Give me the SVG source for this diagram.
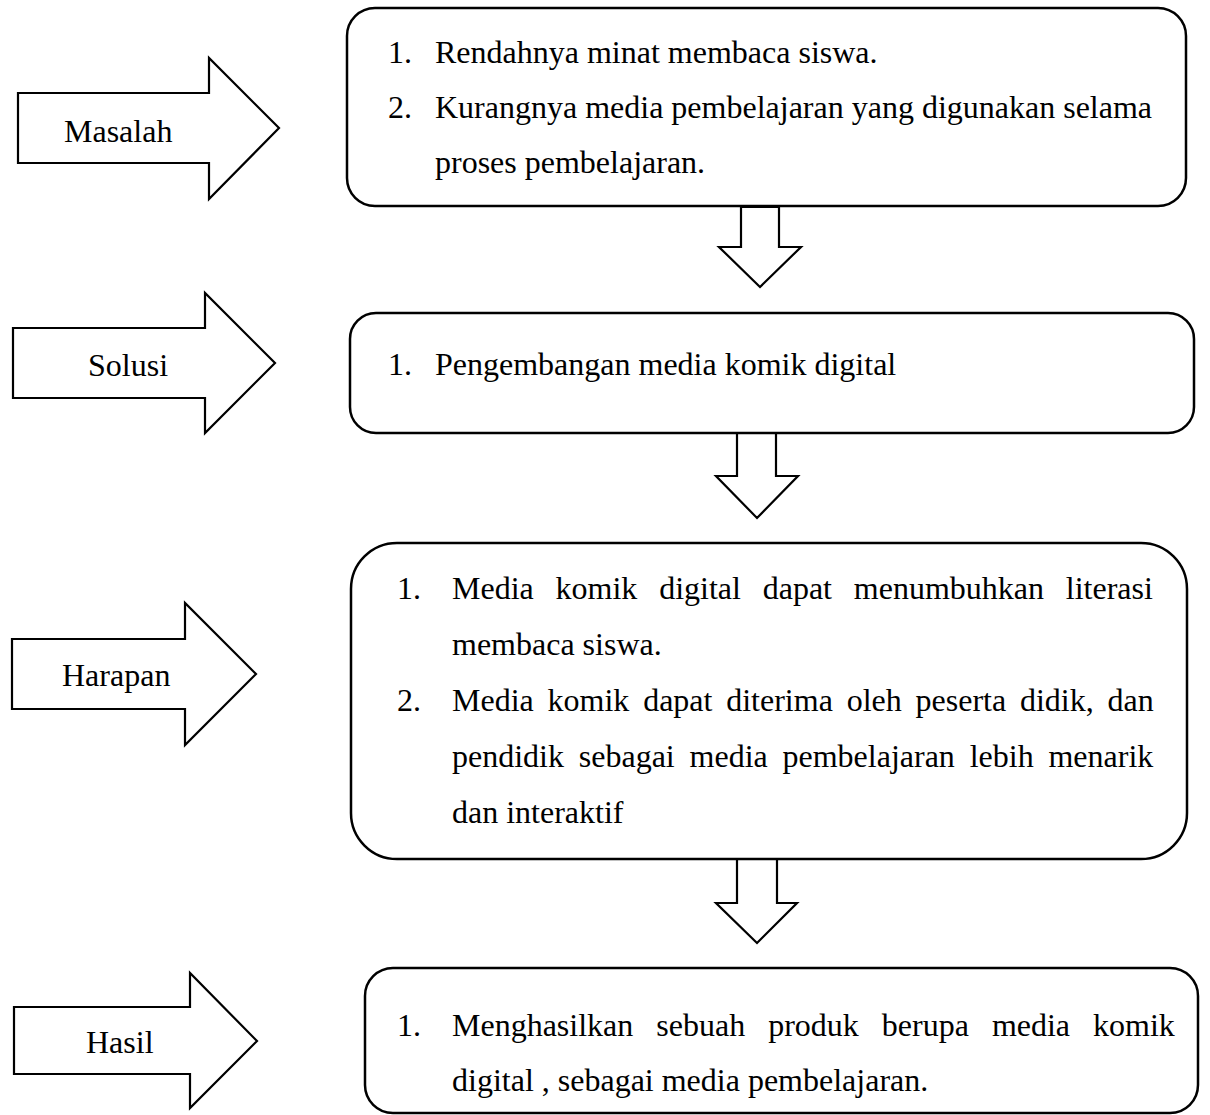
<svg xmlns="http://www.w3.org/2000/svg" width="1210" height="1115" viewBox="0 0 1210 1115">
<style>
.shape{fill:#fff;stroke:#000;stroke-width:2.2;stroke-linejoin:miter}
.box{fill:#fff;stroke:#000;stroke-width:2.5}
text{font-family:"Liberation Serif","Times New Roman",serif;font-size:32px;fill:#000}
</style>
<rect width="1210" height="1115" fill="#fff"/>
<g id="connectors">
<polygon class="shape" points="741,207 779,207 779,247 801,247 760,287 719,247 741,247"/>
<polygon class="shape" points="737,433 776,433 776,476 798,476 757,518 716,476 737,476"/>
<polygon class="shape" points="737,859 777,859 777,903 797,903 757,943 716,903 737,903"/>
</g>
<g id="label-masalah">
<polygon class="shape" points="18,93 209,93 209,58 279,128 209,199 209,163 18,163"/>
<text x="64" y="142">Masalah</text>
</g>
<g id="label-solusi">
<polygon class="shape" points="13,328 205,328 205,293 275,363 205,433 205,398 13,398"/>
<text x="88" y="376">Solusi</text>
</g>
<g id="label-harapan">
<polygon class="shape" points="12,639 185,639 185,603 256,674 185,745 185,709 12,709"/>
<text x="62" y="686">Harapan</text>
</g>
<g id="label-hasil">
<polygon class="shape" points="14,1007 190,1007 190,973 257,1041 190,1108 190,1074 14,1074"/>
<text x="86" y="1053">Hasil</text>
</g>
<g id="box-masalah">
<rect class="box" x="347" y="8" width="839" height="198" rx="28"/>
<text x="388" y="63">1.</text><text x="435" y="63">Rendahnya minat membaca siswa.</text>
<text x="388" y="118">2.</text><text x="435" y="118">Kurangnya media pembelajaran yang digunakan selama</text>
<text x="435" y="173">proses pembelajaran.</text>
</g>
<g id="box-solusi">
<rect class="box" x="350" y="313" width="844" height="120" rx="26"/>
<text x="388" y="375">1.</text><text x="435" y="375">Pengembangan media komik digital</text>
</g>
<g id="box-harapan">
<rect class="box" x="351" y="543" width="836" height="316" rx="46"/>
<text x="397" y="599">1.</text><text x="452" y="599" word-spacing="13.8">Media komik digital dapat menumbuhkan literasi</text>
<text x="452" y="655">membaca siswa.</text>
<text x="397" y="711">2.</text><text x="452" y="711" word-spacing="5.8">Media komik dapat diterima oleh peserta didik, dan</text>
<text x="452" y="767" word-spacing="6.8">pendidik sebagai media pembelajaran lebih menarik</text>
<text x="452" y="823">dan interaktif</text>
</g>
<g id="box-hasil">
<rect class="box" x="365" y="968" width="833" height="145" rx="28"/>
<text x="397" y="1036">1.</text><text x="452" y="1036" word-spacing="15">Menghasilkan sebuah produk berupa media komik</text>
<text x="452" y="1091">digital , sebagai media pembelajaran.</text>
</g>
</svg>
